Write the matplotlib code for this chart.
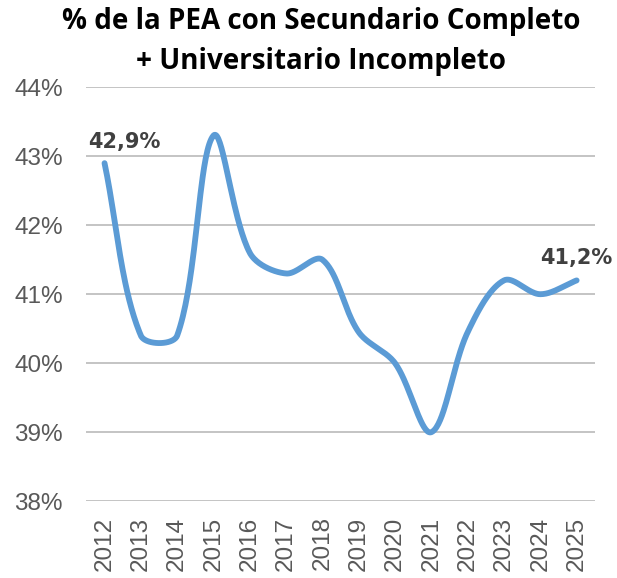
import numpy as np
import matplotlib.pyplot as plt

years = ['2012', '2013', '2014', '2015', '2016', '2017', '2018',
         '2019', '2020', '2021', '2022', '2023', '2024', '2025']
pea = [42.9, 40.4, 40.4, 43.3, 41.6, 41.3, 41.5,
       40.45, 40.0, 39.0, 40.45, 41.2, 41.0, 41.2]
yticks = [38, 39, 40, 41, 42, 43, 44]

# pixel size of one step in x and one point in y, for the smoothing
XPX, YPX = 36.4, 69.0


# smoothed line like excel (bezier, tension scaled by chord length)
def smooth(xs, ys, n=40):
    P = np.column_stack([np.asarray(xs, float) * XPX, np.asarray(ys, float) * YPX])
    P = np.vstack([P[0], P, P[-1]])
    out = []
    t = np.linspace(0, 1, n)[:, None]
    for i in range(1, len(P) - 2):
        p0, p3 = P[i], P[i + 1]
        d0 = np.linalg.norm(P[i] - P[i - 1])
        d1 = np.linalg.norm(P[i + 1] - P[i])
        d2 = np.linalg.norm(P[i + 2] - P[i + 1])
        f1 = d1 / (d0 + d1) if d0 + d1 > 0 else 0
        f2 = d1 / (d1 + d2) if d1 + d2 > 0 else 0
        p1 = p0 + (P[i + 1] - P[i - 1]) * f1 / 3
        p2 = p3 - (P[i + 2] - P[i]) * f2 / 3
        b = (1 - t) ** 3 * p0 + 3 * (1 - t) ** 2 * t * p1 + 3 * (1 - t) * t ** 2 * p2 + t ** 3 * p3
        out.append(b)
    out = np.vstack(out)
    return out[:, 0] / XPX, out[:, 1] / YPX


fig = plt.figure(figsize=(6.17, 5.78), dpi=100)
ax = fig.add_axes([0.140, 0.133, 0.824, 0.716])

x = np.arange(len(years))
sx, sy = smooth(x, pea)
ax.plot(sx, sy, color='#5B9BD5', lw=4.2, solid_capstyle='round', zorder=3)

ax.set_xlim(-0.5, len(years) - 0.5)
ax.set_ylim(38, 44)
ax.set_yticks(yticks)
ax.set_yticklabels([f'{v}%' for v in yticks], fontsize=17.5, color='#595959',
                   family='Liberation Sans')
ax.set_xticks(x)
ax.set_xticklabels(years, rotation=90, fontsize=17.5, color='#595959',
                   family='Liberation Sans')
ax.tick_params(length=0, pad=11)
ax.tick_params(axis='y', pad=17)
ax.grid(axis='y', color='#BFBFBF', lw=1.3)
ax.set_axisbelow(True)
for s in ax.spines.values():
    s.set_visible(False)

ax.annotate('42,9%', (0, pea[0]), xytext=(-12, 8), textcoords='offset points',
            fontsize=15, fontweight='bold', color='#404040', ha='left', va='bottom')
ax.annotate('41,2%', (len(years) - 1, pea[-1]), xytext=(-26, 9), textcoords='offset points',
            fontsize=15, fontweight='bold', color='#404040', ha='left', va='bottom')

fig.text(0.52, 0.962, '% de la PEA con Secundario Completo', ha='center', va='center',
         fontsize=20, fontweight='bold', family='Open Sans')
fig.text(0.52, 0.893, '+ Universitario Incompleto', ha='center', va='center',
         fontsize=20, fontweight='bold', family='Open Sans')

fig.savefig('out.png', dpi=100)
